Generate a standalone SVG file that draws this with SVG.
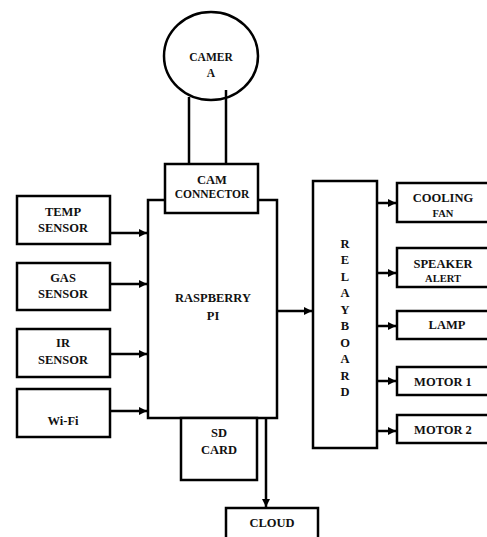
<svg xmlns="http://www.w3.org/2000/svg" width="487" height="537" viewBox="0 0 487 537">
<style>
.b{fill:#fff;stroke:#000;stroke-width:2.5}
.l{fill:none;stroke:#000;stroke-width:2.5}
text{font-weight:bold;font-size:12.5px;text-anchor:middle;fill:#111}
.s{font-size:10.5px}
</style>
<defs>
<marker id="ah" markerWidth="8" markerHeight="8" refX="6" refY="3" orient="auto" markerUnits="userSpaceOnUse" viewBox="0 0 6 6">
<path d="M0,0 L6,3 L0,6 z" fill="#000"/>
</marker>
</defs>
<rect width="487" height="537" fill="#fff"/>
<g id="connectors">
<line class="l" x1="189" y1="97" x2="189" y2="164"/>
<line class="l" x1="226" y1="90" x2="226" y2="164"/>
<line class="l" x1="110" y1="233" x2="147" y2="233" marker-end="url(#ah)"/>
<line class="l" x1="110" y1="284" x2="147" y2="284" marker-end="url(#ah)"/>
<line class="l" x1="110" y1="354" x2="147" y2="354" marker-end="url(#ah)"/>
<line class="l" x1="110" y1="411" x2="147" y2="411" marker-end="url(#ah)"/>
<line class="l" x1="277" y1="311" x2="312" y2="311" marker-end="url(#ah)"/>
<line class="l" x1="377" y1="203" x2="396" y2="203" marker-end="url(#ah)"/>
<line class="l" x1="377" y1="273" x2="396" y2="273" marker-end="url(#ah)"/>
<line class="l" x1="377" y1="326" x2="396" y2="326" marker-end="url(#ah)"/>
<line class="l" x1="377" y1="381" x2="396" y2="381" marker-end="url(#ah)"/>
<line class="l" x1="377" y1="431" x2="396" y2="431" marker-end="url(#ah)"/>
<line class="l" x1="266" y1="418" x2="266" y2="507" marker-end="url(#ah)"/>
</g>
<g font-family="'Liberation Serif', 'Times New Roman', serif">
<g id="camera">
<ellipse class="l" cx="211" cy="56" rx="47" ry="44"/>
<text x="211" y="61" style="font-size:11.5px">CAMER</text>
<text x="211" y="77" style="font-size:11.5px">A</text>
</g>
<g id="raspberry-pi">
<rect class="b" x="148" y="200" width="129" height="218"/>
<text x="213" y="302">RASPBERRY</text>
<text x="213" y="320">PI</text>
</g>
<g id="cam-connector">
<rect class="b" x="165" y="164" width="93" height="49"/>
<text x="212" y="184">CAM</text>
<text x="212" y="198" style="font-size:11.5px">CONNECTOR</text>
</g>
<g id="sd-card">
<rect class="b" x="181" y="418" width="76" height="62"/>
<text x="219" y="437">SD</text>
<text x="219" y="454">CARD</text>
</g>
<g id="temp-sensor">
<rect class="b" x="17" y="196" width="93" height="48"/>
<text x="63" y="216">TEMP</text>
<text x="63" y="232">SENSOR</text>
</g>
<g id="gas-sensor">
<rect class="b" x="17" y="263" width="93" height="47"/>
<text x="63" y="282">GAS</text>
<text x="63" y="298">SENSOR</text>
</g>
<g id="ir-sensor">
<rect class="b" x="17" y="329" width="93" height="48"/>
<text x="63" y="347">IR</text>
<text x="63" y="364">SENSOR</text>
</g>
<g id="wifi">
<rect class="b" x="17" y="389" width="93" height="48"/>
<text x="63" y="425">Wi-Fi</text>
</g>
<g id="relay-board">
<rect class="b" x="313" y="181" width="64" height="267"/>
<text x="345" y="248">R</text>
<text x="345" y="264">E</text>
<text x="345" y="281">L</text>
<text x="345" y="297">A</text>
<text x="345" y="314">Y</text>
<text x="345" y="330">B</text>
<text x="345" y="347">O</text>
<text x="345" y="363">A</text>
<text x="345" y="380">R</text>
<text x="345" y="396">D</text>
</g>
<g id="cooling-fan">
<rect class="b" x="397" y="183" width="95" height="39"/>
<text x="443" y="202">COOLING</text>
<text class="s" x="443" y="217">FAN</text>
</g>
<g id="speaker-alert">
<rect class="b" x="397" y="248" width="95" height="39"/>
<text x="443" y="268">SPEAKER</text>
<text class="s" x="443" y="282">ALERT</text>
</g>
<g id="lamp">
<rect class="b" x="397" y="311" width="95" height="28"/>
<text x="447" y="329">LAMP</text>
</g>
<g id="motor-1">
<rect class="b" x="397" y="367" width="95" height="28"/>
<text x="443" y="386">MOTOR 1</text>
</g>
<g id="motor-2">
<rect class="b" x="397" y="415" width="95" height="28"/>
<text x="443" y="434">MOTOR 2</text>
</g>
<g id="cloud">
<rect class="b" x="226" y="508" width="92" height="40"/>
<text x="272" y="527">CLOUD</text>
</g>
</g>
</svg>
